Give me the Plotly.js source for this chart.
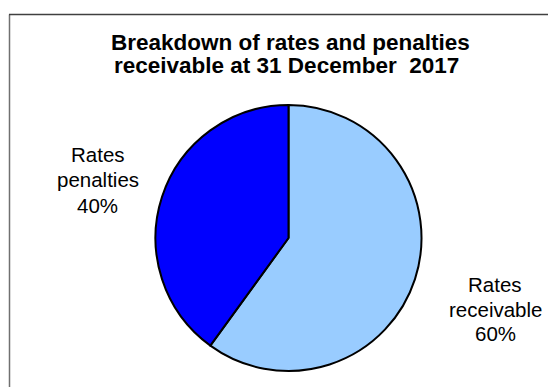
<!DOCTYPE html>
<html>
<head>
<meta charset="utf-8">
<script src="https://cdn.plot.ly/plotly-3.0.1.min.js"></script>
<style>
html,body{margin:0;padding:0;background:#fff;}
#chart{width:548px;height:387px;}
</style>
</head>
<body>
<div id="chart"></div>
<script>
// Data
var categories = ['Rates receivable', 'Rates penalties'];
var values = [60, 40];
var colors = ['#99CCFF', '#0000FF'];
var titleLines = ['Breakdown of rates and penalties', 'receivable at 31 December&nbsp; 2017'];

var W = 548, H = 387;
function px(x){ return x / W; }
function py(y){ return 1 - y / H; }

var total = values.reduce(function(a,b){return a+b;}, 0);
function labelLines(i){
  var pct = Math.round(values[i] / total * 100);
  return categories[i].split(' ').concat([pct + '%']);
}

var cx = 288.5, cy = 238, r = 133;

var trace = {
  type: 'pie',
  labels: categories,
  values: values,
  sort: false,
  direction: 'clockwise',
  rotation: 0,
  marker: {colors: colors, line: {color: '#000000', width: 2}},
  textinfo: 'none',
  hoverinfo: 'label+percent',
  showlegend: false,
  domain: {x: [px(cx - r), px(cx + r)], y: [py(cy + r), py(cy - r)]}
};

var font = {family: 'Liberation Sans, Arial, sans-serif', color: '#000000'};
var labelSize = 20.5;
var titleSize = 22.5;

function ann(text, x, baseline, size){
  return {text: text, x: px(x), y: py(baseline - 0.35*size), xref:'paper', yref:'paper',
    xanchor:'center', yanchor:'middle', showarrow:false, align:'center',
    font: Object.assign({size: size}, font)};
}

var annotations = [
  ann('<b>' + titleLines[0] + '</b>', 290, 50, titleSize),
  ann('<b>' + titleLines[1] + '</b>', 286, 73, titleSize)
];
var leftLines = labelLines(1), rightLines = labelLines(0);
var leftBase = [161.5, 187, 212.5], rightBase = [291.5, 316.5, 341];
leftLines.forEach(function(t, k){ annotations.push(ann(t, 97.5, leftBase[k], labelSize)); });
rightLines.forEach(function(t, k){ annotations.push(ann(t, 495, rightBase[k], labelSize)); });

var shapes = [
  {type:'line', xref:'paper', yref:'paper', x0: px(9.5), x1: px(9.5), y0: py(14.5), y1: py(400), line:{color:'#707070', width:1.5}},
  {type:'line', xref:'paper', yref:'paper', x0: px(9), x1: px(560), y0: py(14.5), y1: py(14.5), line:{color:'#404040', width:1.5}}
];

var layout = {
  width: W, height: H,
  margin: {l:0, r:0, t:0, b:0, pad:0},
  paper_bgcolor: '#ffffff',
  plot_bgcolor: '#ffffff',
  showlegend: false,
  annotations: annotations,
  shapes: shapes,
  font: font
};

Plotly.newPlot('chart', [trace], layout, {displayModeBar: false, staticPlot: true});
</script>
</body>
</html>
